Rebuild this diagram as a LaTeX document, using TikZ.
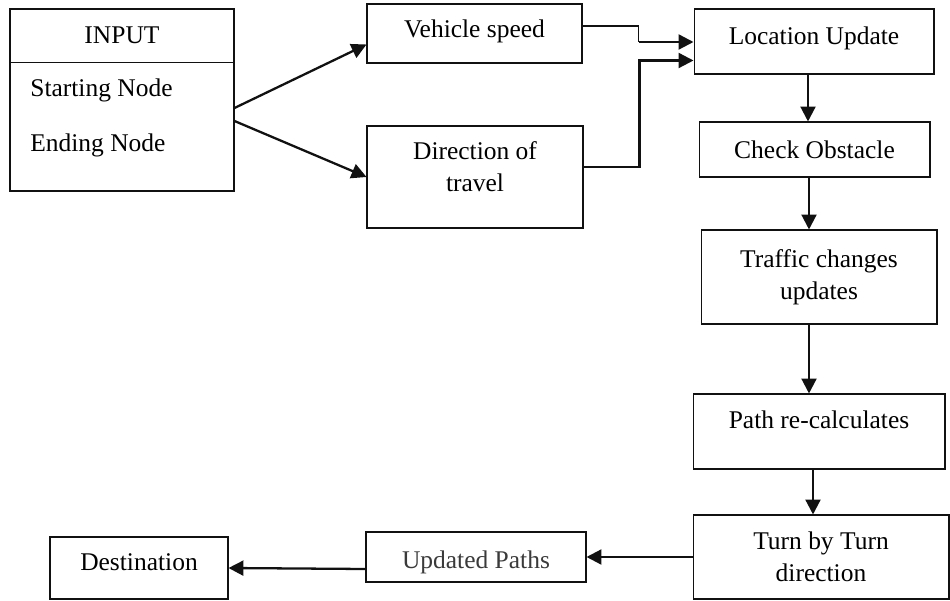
\documentclass[tikz,border=0pt]{standalone}
\usepackage{fontspec}
\setmainfont{Liberation Serif}
\usetikzlibrary{arrows.meta,calc,positioning}
\definecolor{Ink}{HTML}{111111}
\definecolor{Soft}{HTML}{3A3A3A}

\begin{document}
\begin{tikzpicture}[x=0.02cm,y=-0.02cm,
  font=\fontsize{14.5}{18}\selectfont,
  box/.style={draw=Ink,line width=0.6pt,rectangle,inner sep=0pt,align=center},
  arr/.style={Ink,line width=1.3pt,-{Triangle[length=8.5pt,width=8.5pt]}}]
  \useasboundingbox (0,0) rectangle (950,601);
  % input block
  \node[box,minimum width=4.48cm,minimum height=3.64cm] (input) at (122,100) {};
  \draw[Ink,line width=0.6pt] ($(input.north west)+(0,54)$) -- ($(input.north east)+(0,54)$);
  \node (intitle) at (122,35) {INPUT};
  \node[anchor=west,inner sep=0pt] (startnode) at (30,90) {Starting Node};
  \node[anchor=west,inner sep=0pt] (endnode) at (30,145) {Ending Node};
  % middle column
  \node[box,minimum width=4.30cm,minimum height=1.18cm,text depth=0.2cm] (speed) at (474.5,33.5) {Vehicle speed};
  \node[box,minimum width=4.32cm,minimum height=2.04cm,text depth=0.42cm] (dir) at (475,177) {Direction of\\travel};
  % right column
  \node[box,minimum width=4.80cm,minimum height=1.30cm,text depth=0.22cm] (loc) at (814,41.5) {Location Update};
  \node[box,minimum width=4.62cm,minimum height=1.10cm] (obst) at (814.5,149.5) {Check Obstacle};
  \node[box,minimum width=4.72cm,minimum height=1.88cm] (traffic) at (819,277) {Traffic changes\\updates};
  \node[box,minimum width=5.04cm,minimum height=1.50cm,text depth=0.48cm] (path) at (819,431.5) {Path re-calculates};
  \node[box,minimum width=5.12cm,minimum height=1.68cm] (turn) at (821,557) {Turn by Turn\\direction};
  % bottom row
  \node[box,minimum width=4.40cm,minimum height=1.00cm,text=Soft,text height=0.56cm] (upd) at (476,557) {Updated Paths};
  \node[box,minimum width=3.56cm,minimum height=1.24cm,text depth=0.22cm] (dest) at (139,568) {Destination};

  % connectors
  \draw[arr] ($(input.east)+(0,8)$) -- ($(speed.west)+(0,11)$);
  \draw[arr] ($(input.east)+(0,21)$) -- (dir.west);
  \coordinate (jspeed) at ($(speed.east)+(56,8.5)$);
  \draw[Ink,line width=0.6pt] ($(speed.east)+(0,-7.5)$) -| (jspeed);
  \draw[arr] (jspeed) -- (jspeed -| loc.west);
  \draw[arr] ($(dir.east)+(0,-10)$) -- ++(56,0) |- ($(loc.west)+(0,19)$);
  \foreach \a/\b/\dx in {loc/obst/-6,obst/traffic/-5.5,traffic/path/-10,path/turn/-6}{
    \draw[arr] ($(\a.south)+(\dx,0)$) -- ($(\a.south |- \b.north)+(\dx,0)$);
  }
  \draw[arr] (turn.west) -- (turn.west -| upd.east);
  \draw[arr] ($(upd.west)+(0,12)$) -- (dest.east);
\end{tikzpicture}
\end{document}
